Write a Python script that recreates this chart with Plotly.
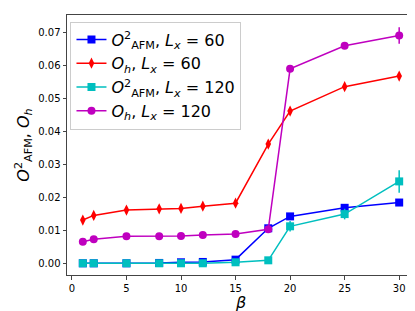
import plotly.graph_objects as go

beta = [1, 2, 5, 8, 10, 12, 15, 18, 20, 25, 30]

afm60 = [0.0, 0.0, 0.0, 0.0001, 0.0003, 0.0004, 0.0011, 0.0106, 0.0142, 0.0168, 0.0184]
afm60_err = [0.0002, 0.0002, 0.0002, 0.0002, 0.0003, 0.0004, 0.0004, 0.0006, 0.0006, 0.0006, 0.0006]

oh60 = [0.0131, 0.0145, 0.0161, 0.0165, 0.0166, 0.0173, 0.0182, 0.0361, 0.0461, 0.0535, 0.0567]
oh60_err = [0.0010, 0.0010, 0.0010, 0.0010, 0.0010, 0.0009, 0.0009, 0.0010, 0.0010, 0.0008, 0.0008]

afm120 = [0.0, 0.0, 0.0, 0.0, 0.0, 0.0, 0.0003, 0.0009, 0.0112, 0.0149, 0.0248]
afm120_err = [0.0002, 0.0002, 0.0002, 0.0002, 0.0002, 0.0002, 0.0003, 0.0004, 0.0016, 0.0016, 0.0034]

oh120 = [0.0065, 0.0073, 0.0082, 0.0082, 0.0083, 0.0086, 0.0089, 0.0103, 0.0589, 0.0659, 0.0690]
oh120_err = [0.0004, 0.0004, 0.0004, 0.0004, 0.0004, 0.0004, 0.0004, 0.0005, 0.0006, 0.0010, 0.0025]

names = [
    "<i>O</i><sup>2</sup><sub>AFM</sub>, <i>L<sub>x</sub></i> = 60",
    "<i>O<sub>h</sub></i>, <i>L<sub>x</sub></i> = 60",
    "<i>O</i><sup>2</sup><sub>AFM</sub>, <i>L<sub>x</sub></i> = 120",
    "<i>O<sub>h</sub></i>, <i>L<sub>x</sub></i> = 120",
]
series = [afm60, oh60, afm120, oh120]
errs = [afm60_err, oh60_err, afm120_err, oh120_err]
colors = ["#0000ff", "#ff0000", "#00bfbf", "#bf00bf"]
symbols = ["square", "diamond-tall", "square", "circle"]
sizes = [8, 8, 8, 8]

fig = go.Figure()
for nm, ys, er, c, s, sz in zip(names, series, errs, colors, symbols, sizes):
    fig.add_trace(go.Scatter(
        x=beta, y=ys, name=nm, mode="lines+markers",
        line=dict(color=c, width=1.5),
        marker=dict(symbol=s, size=sz, color=c),
        error_y=dict(type="data", array=er, visible=True, color=c, thickness=1.5, width=0),
    ))

fig.update_layout(
    width=415, height=311,
    margin=dict(l=59, r=8, t=7, b=44),
    paper_bgcolor="white", plot_bgcolor="white",
    font=dict(family="DejaVu Sans", color="black"),
    showlegend=True,
    legend=dict(
        x=0.01, y=0.975, xanchor="left", yanchor="top",
        bgcolor="rgba(255,255,255,0.8)", bordercolor="#cccccc", borderwidth=1,
        font=dict(size=16, family="DejaVu Sans"),
        tracegroupgap=0, itemwidth=30,
    ),
    xaxis=dict(
        range=[-0.45, 31.45], tickvals=[0, 5, 10, 15, 20, 25, 30],
        showgrid=False, zeroline=False, showline=True, linecolor="#444", linewidth=1, mirror=True,
        ticks="outside", ticklen=3.5, tickcolor="#444", tickfont=dict(size=10),
        title=dict(text="<i>β</i>", font=dict(size=16), standoff=4),
    ),
    yaxis=dict(
        range=[-0.00355, 0.0752], tickvals=[0, 0.01, 0.02, 0.03, 0.04, 0.05, 0.06, 0.07],
        tickformat=".2f",
        showgrid=False, zeroline=False, showline=True, linecolor="#444", linewidth=1, mirror=True,
        ticks="outside", ticklen=3.5, tickcolor="#444", tickfont=dict(size=10),
        title=dict(text="<i>O</i><sup>2</sup><sub>AFM</sub>, <i>O<sub>h</sub></i>", font=dict(size=16), standoff=4),
    ),
)

fig.write_html("out.html")
